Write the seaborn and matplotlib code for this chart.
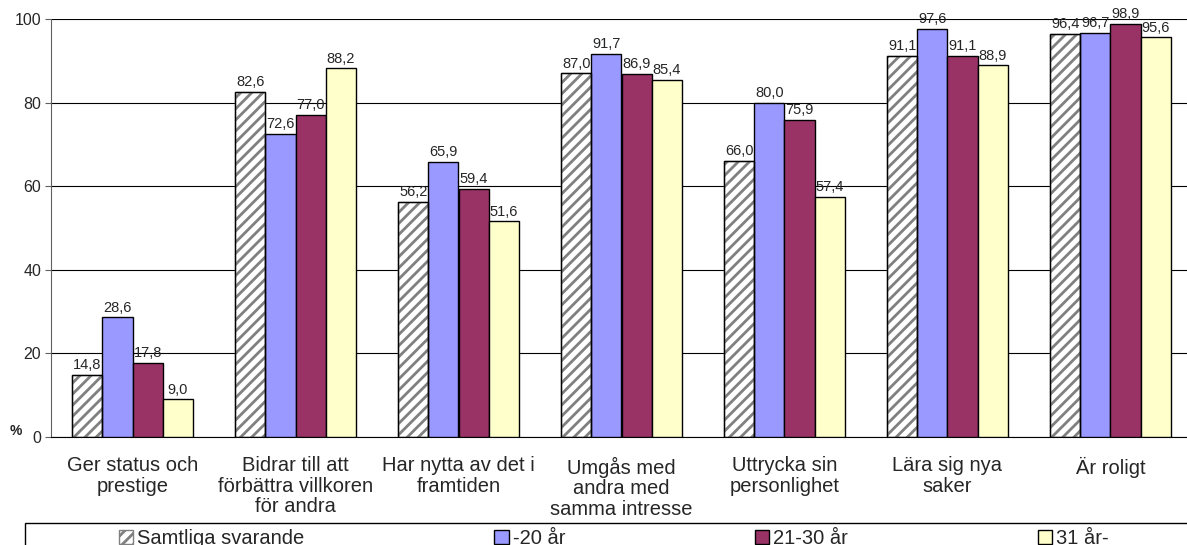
import matplotlib
matplotlib.use("Agg")
import matplotlib.pyplot as plt
import matplotlib.patches as mpatches
import pandas as pd
import seaborn as sns

categories = [
    "Ger status och\nprestige",
    "Bidrar till att\nförbättra villkoren\nför andra",
    "Har nytta av det i\nframtiden",
    "Umgås med\nandra med\nsamma intresse",
    "Uttrycka sin\npersonlighet",
    "Lära sig nya\nsaker",
    "Är roligt",
]
groups = ["Samtliga svarande", "-20 år", "21-30 år", "31 år-"]
samtliga = [14.8, 82.6, 56.2, 87.0, 66.0, 91.1, 96.4]
under_20 = [28.6, 72.6, 65.9, 91.7, 80.0, 97.6, 96.7]
age_21_30 = [17.8, 77.0, 59.4, 86.9, 75.9, 91.1, 98.9]
over_31 = [9.0, 88.2, 51.6, 85.4, 57.4, 88.9, 95.6]
colors = ["#FFFFFF", "#9999FF", "#993366", "#FFFFCC"]

rows = []
for g, vals in zip(groups, [samtliga, under_20, age_21_30, over_31]):
    for c, v in zip(categories, vals):
        rows.append({"kategori": c, "grupp": g, "andel": v})
df = pd.DataFrame(rows)

sns.set_style("white")
plt.rcParams["font.family"] = ["Liberation Sans", "DejaVu Sans"]
plt.rcParams["hatch.linewidth"] = 2.0

fig = plt.figure(figsize=(11.87, 5.45), dpi=100)
ax = fig.add_axes([51 / 1187, 1 - 437 / 545, 1141 / 1187, 418 / 545])

sns.barplot(data=df, x="kategori", y="andel", hue="grupp",
            hue_order=groups, order=categories, palette=colors,
            width=0.74, edgecolor="black", linewidth=1.0,
            saturation=1, ax=ax, legend=False, zorder=3)

# hatch the first series, keep a black outline on top
for p in ax.containers[0].patches:
    p.set_hatch("///")
    p.set_edgecolor("#808080")
    ax.add_patch(mpatches.Rectangle(p.get_xy(), p.get_width(), p.get_height(),
                                    fill=False, ec="black", lw=1.0, zorder=4))

for cont in ax.containers:
    ax.bar_label(cont, labels=[f"{v:.1f}".replace(".", ",") for v in cont.datavalues],
                 padding=2, fontsize=10.5, zorder=5)

ax.set_xlim(-0.5, 6.5)
ax.set_ylim(0, 100)
ax.set_yticks(range(0, 101, 20))
ax.tick_params(axis="y", labelsize=11.5, length=4, left=True, color="#606060", pad=3)
ax.tick_params(axis="x", labelsize=14.5, length=0, pad=14)
for lbl in ax.get_xticklabels():
    lbl.set_linespacing(1.1)
ax.yaxis.grid(True, color="black", lw=0.8, zorder=0)
ax.set_axisbelow(True)
ax.set_xlabel("")
ax.set_ylabel("")
for side in ["top", "right"]:
    ax.spines[side].set_visible(False)
ax.spines["left"].set_color("#606060")
ax.spines["bottom"].set_color("black")

fig.text(10 / 1187, 1 - 431 / 545, "%", fontsize=10, fontweight="bold",
         ha="left", va="center")

# legend box, cut off at the bottom like the original
fig.patches.append(mpatches.Rectangle((25 / 1187, -0.1), 1.05, 0.1 + (545 - 523) / 545,
                                      transform=fig.transFigure, fill=False,
                                      ec="black", lw=1.0))
handles = list(ax.containers)
fig.legend(handles, groups, loc="upper left", ncol=4, mode="expand",
           bbox_to_anchor=(119 / 1187, 1 - 529 / 545, 990 / 1187, 0),
           frameon=False, fontsize=14.5, handlelength=0.7, handleheight=0.7,
           handletextpad=0.2, borderaxespad=0, borderpad=0)

fig.savefig("out.png", dpi=100)
